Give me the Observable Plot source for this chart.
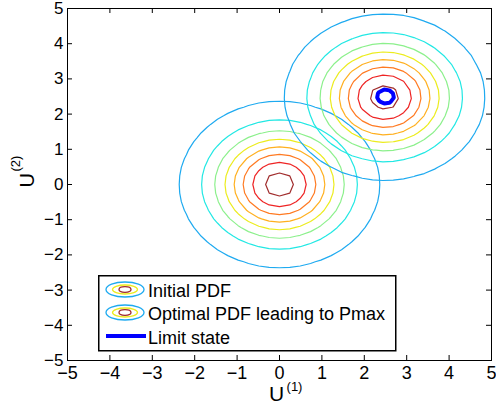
<!DOCTYPE html>
<html><head><meta charset="utf-8">
<script src="https://cdn.jsdelivr.net/npm/d3@7"></script>
<script src="https://cdn.jsdelivr.net/npm/@observablehq/plot@0.6"></script>
<style>
body{margin:0;background:#fff;}
#chart{position:relative;width:496px;height:410px;font-family:"Liberation Sans",Arial,sans-serif;}
#legend{position:absolute;left:98px;top:275px;}
</style></head><body><div id="chart"></div>
<script>
const ticks = [-5,-4,-3,-2,-1,0,1,2,3,4,5];
const levels = [0.01,0.03,0.05,0.07,0.09,0.11,0.13,0.15];
const levelColors = ["#1eaaf0","#22e8e4","#8cf08c","#ecec1e","#ffb020","#ff7a22","#ee2424","#a02c2c"];
const pdfNames = ["Initial PDF","Optimal PDF leading to Pmax"];
const pdfMeanU1 = [0, 2.48];
const pdfMeanU2 = [0, 2.48];
const pdfSigma = [1, 1];
const limitCenter = [2.5, 2.5];
const limitRadius = 0.2;
const legendLabels = ["Initial PDF","Optimal PDF leading to Pmax","Limit state"];
const xLabel = ["U", "(1)"];
const yLabel = ["U", "(2)"];

const font = '"Liberation Sans", Arial, Helvetica, sans-serif';
const density = (i) => (x, y) => {
  const s = pdfSigma[i];
  const dx = x - pdfMeanU1[i], dy = y - pdfMeanU2[i];
  return Math.exp(-(dx*dx + dy*dy) / (2*s*s)) / (2*Math.PI*s*s);
};
const grid = {x1: -5, x2: 5, y1: -5, y2: 5};

const pdfMarks = pdfNames.map((n, i) => Plot.contour({
  ...grid, width: 41, height: 41,
  value: density(i), thresholds: levels,
  stroke: "value", fill: "none", strokeWidth: 1.2
}));

// limit state g(u) = r - |u - c| >= 0 inside
const limitMark = Plot.contour({
  ...grid, width: 81, height: 81,
  value: (x, y) => limitRadius - Math.hypot(x - limitCenter[0], y - limitCenter[1]),
  thresholds: [0], stroke: "#0000ff", fill: "none", strokeWidth: 4
});

const W = 496, H = 410, mT = 8, mB = 50, mL = 67, mR = 5;
const pw = W - mL - mR, ph = H - mT - mB, tl = 5;

const plot = Plot.plot({
  width: W, height: H,
  marginTop: mT, marginBottom: mB, marginLeft: mL, marginRight: mR,
  style: {fontFamily: font, fontSize: "18px", background: "#fff", color: "#000"},
  x: {domain: [-5, 5], label: null},
  y: {domain: [-5, 5], label: null},
  color: {type: "linear", domain: levels, range: levelColors},
  marks: [
    ...pdfMarks,
    limitMark,
    Plot.tickX(ticks, {x: d => d, insetTop: ph - tl, stroke: "#000"}),
    Plot.tickX(ticks, {x: d => d, insetBottom: ph - tl, stroke: "#000"}),
    Plot.tickY(ticks, {y: d => d, insetRight: pw - tl, stroke: "#000"}),
    Plot.tickY(ticks, {y: d => d, insetLeft: pw - tl, stroke: "#000"}),
    Plot.frame({stroke: "#000", strokeWidth: 1}),
    Plot.axisX({ticks, tickSize: 0, tickPadding: 6, fontSize: 18, label: null}),
    Plot.axisY({ticks, tickSize: 0, tickPadding: 4, fontSize: 17, label: null}),
    Plot.text([xLabel[0]], {frameAnchor: "bottom", text: d => d, dx: -3, dy: 40, fontSize: 21}),
    Plot.text([xLabel[1]], {frameAnchor: "bottom", text: d => d, dx: 15, dy: 30, fontSize: 13}),
    Plot.text([yLabel[0]], {frameAnchor: "left", text: d => d, dx: -40, dy: 3, fontSize: 20, rotate: -90}),
    Plot.text([yLabel[1]], {frameAnchor: "left", text: d => d, dx: -52, dy: -13, fontSize: 13, rotate: -90})
  ]
});
const chart = document.getElementById("chart");
chart.appendChild(plot);

// legend overlay
const lg = d3.select(chart).append("svg").attr("id", "legend")
  .attr("width", 300).attr("height", 78)
  .style("font-family", font);
lg.append("rect").attr("x", 0.75).attr("y", 0.75).attr("width", 297).attr("height", 75)
  .attr("fill", "#fff").attr("stroke", "#000").attr("stroke-width", 1.5);
const rowY = [14.5, 37.5, 61];
const icon = [[19, 7.5, levelColors[0]], [12.5, 4.5, levelColors[3]], [6, 2.8, levelColors[7]]];
[0, 1].forEach(r => {
  icon.forEach(([rx, ry, c]) => lg.append("ellipse").attr("cx", 27).attr("cy", rowY[r])
    .attr("rx", rx).attr("ry", ry).attr("fill", "none").attr("stroke", c).attr("stroke-width", 1.3));
});
lg.append("line").attr("x1", 8).attr("x2", 48).attr("y1", rowY[2]).attr("y2", rowY[2])
  .attr("stroke", "#0000ff").attr("stroke-width", 4);
legendLabels.forEach((t, r) => lg.append("text").attr("x", 50).attr("y", rowY[r] + 7.5)
  .attr("font-size", 18).attr("fill", "#000").text(t));
</script></body></html>
